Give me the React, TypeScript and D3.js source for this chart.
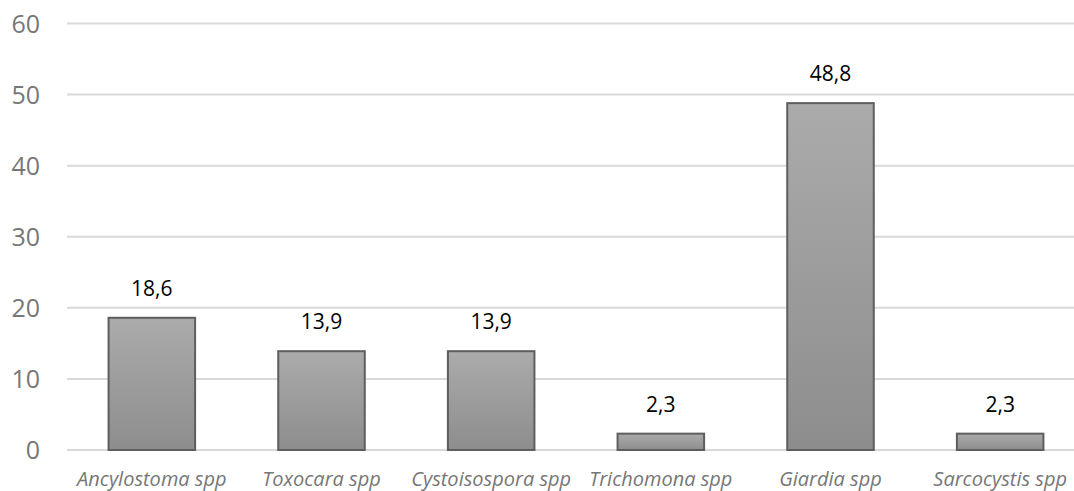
import * as d3 from "d3";
import { useEffect, useRef } from "react";

const categories = [
  "Ancylostoma spp",
  "Toxocara spp",
  "Cystoisospora spp",
  "Trichomona spp",
  "Giardia spp",
  "Sarcocystis spp",
];
const values = [18.6, 13.9, 13.9, 2.3, 48.8, 2.3];
const yTicks = [0, 10, 20, 30, 40, 50, 60];

export default function App() {
  const ref = useRef<SVGSVGElement>(null);

  useEffect(() => {
    if (!ref.current) return;
    const svg = d3.select(ref.current);
    svg.selectAll("*").remove();

    const width = 1074;
    const x0 = 67;
    const x1 = 1085;
    const yTop = 23.5;
    const yBottom = 450;
    const font = "'Open Sans', 'Noto Sans', sans-serif";

    const x = d3.scaleBand().domain(categories).range([x0, x1]).paddingInner(0.49).paddingOuter(0.245);
    const y = d3.scaleLinear().domain([0, 60]).range([yBottom, yTop]);

    const defs = svg.append("defs");
    const grad = defs
      .append("linearGradient")
      .attr("id", "barGrad")
      .attr("x1", "0%")
      .attr("y1", "0%")
      .attr("x2", "0%")
      .attr("y2", "100%");
    grad.append("stop").attr("offset", "0%").style("stop-color", "#ababab");
    grad.append("stop").attr("offset", "100%").style("stop-color", "#8d8d8d");

    // grid lines
    svg
      .append("g")
      .selectAll("line")
      .data(yTicks)
      .enter()
      .append("line")
      .attr("x1", x0)
      .attr("x2", width)
      .attr("y1", (d) => y(d))
      .attr("y2", (d) => y(d))
      .attr("stroke", "#d9d9d9")
      .attr("stroke-width", 2);

    // y tick labels
    svg
      .append("g")
      .selectAll("text")
      .data(yTicks)
      .enter()
      .append("text")
      .attr("x", 40)
      .attr("y", (d) => y(d))
      .attr("dy", "0.36em")
      .attr("text-anchor", "end")
      .attr("fill", "#777777")
      .attr("font-family", font)
      .attr("font-size", "25px")
      .text((d) => d);

    // bars
    svg
      .append("g")
      .selectAll("rect")
      .data(values)
      .enter()
      .append("rect")
      .attr("x", (d, i) => x(categories[i])!)
      .attr("y", (d) => y(d))
      .attr("width", x.bandwidth())
      .attr("height", (d) => yBottom - y(d))
      .attr("fill", "url(#barGrad)")
      .attr("stroke", "#5e5e5e")
      .attr("stroke-width", 2);

    // value labels
    svg
      .append("g")
      .selectAll("text")
      .data(values)
      .enter()
      .append("text")
      .attr("x", (d, i) => x(categories[i])! + x.bandwidth() / 2)
      .attr("y", (d) => y(d) - 22)
      .attr("text-anchor", "middle")
      .attr("fill", "#000")
      .attr("font-family", font)
      .attr("font-size", "21px")
      .text((d) => d.toFixed(1).replace(".", ","));

    // category labels
    svg
      .append("g")
      .selectAll("text")
      .data(categories)
      .enter()
      .append("text")
      .attr("x", (d) => x(d)! + x.bandwidth() / 2)
      .attr("y", 486)
      .attr("text-anchor", "middle")
      .attr("fill", "#777777")
      .attr("font-family", font)
      .attr("font-style", "italic")
      .attr("font-size", "20px")
      .text((d) => d);
  }, []);

  return (
    <svg
      ref={ref}
      width={1074}
      height={491}
      style={{ position: "absolute", left: 0, top: 0, background: "#fff" }}
    />
  );
}
